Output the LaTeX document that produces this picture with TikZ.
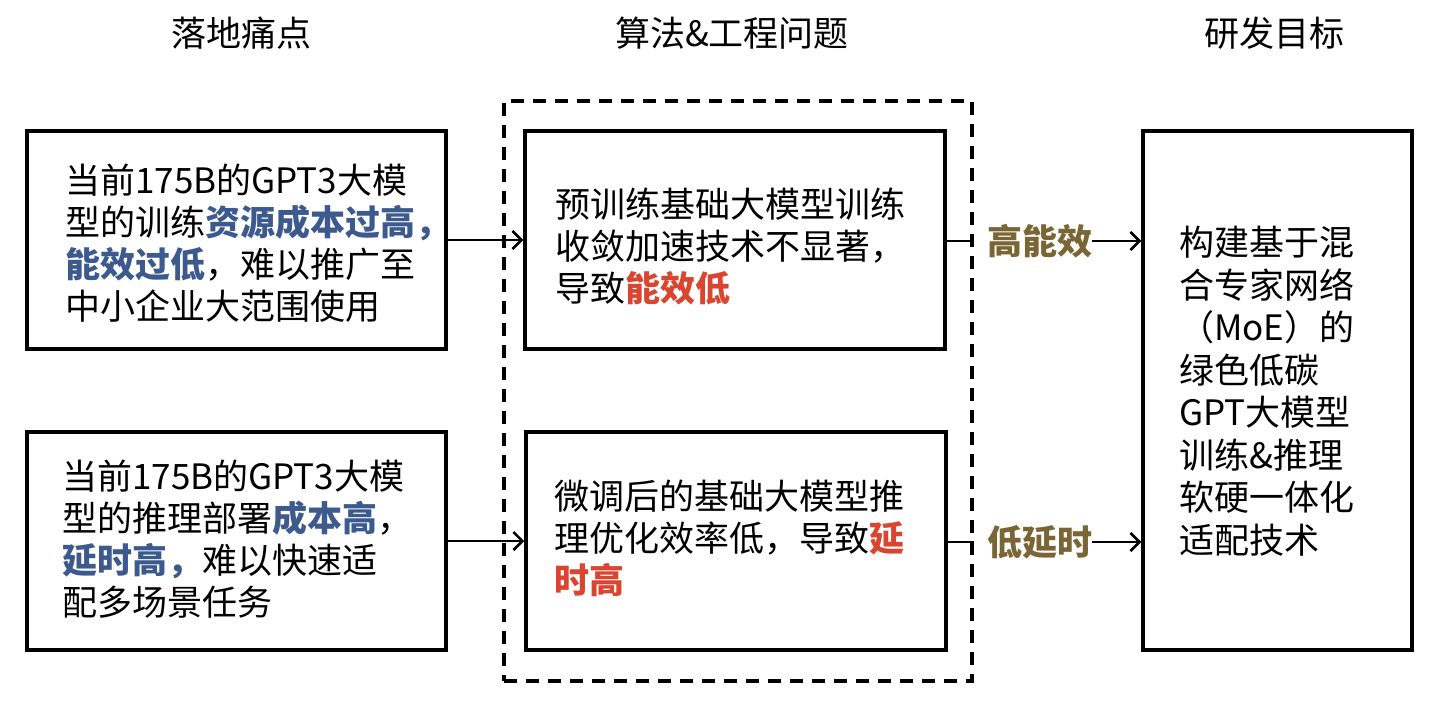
\documentclass[tikz,border=0pt]{standalone}
\usepackage{fontspec}
\setmainfont{Noto Sans CJK SC}
\usetikzlibrary{arrows.meta}
\definecolor{hlblue}{HTML}{3D5A8E}
\definecolor{hlred}{HTML}{D9452F}
\definecolor{hlgold}{HTML}{7A6535}
\newcommand{\hb}[1]{\textbf{\textcolor{hlblue}{#1}}}
\newcommand{\hr}[1]{\textbf{\textcolor{hlred}{#1}}}
\tikzset{
  box/.style={draw=black, line width=3.5pt, rectangle, inner sep=0pt},
  body/.style={anchor=west, align=left, inner sep=0pt, font=\fontsize{35}{42}\selectfont},
  title/.style={inner sep=0pt, font=\fontsize{35}{42}\selectfont},
  lbl/.style={inner sep=0pt, text=hlgold, font=\fontsize{35}{42}\selectfont\bfseries},
  conn/.style={line width=2.5pt},
  arr/.style={line width=2.5pt, -{Straight Barb[length=9pt,width=18pt,line width=2.5pt]}},
  dashbox/.style={draw=black, line width=3.5pt, dash pattern=on 13pt off 9pt, rectangle, inner sep=0pt}
}
\begin{document}
\begin{tikzpicture}[x=1pt,y=-1pt]
\useasboundingbox (0,0) rectangle (1452,704);
% titles
\node[title] (t1) at (241,33) {落地痛点};
\node[title] (t2) at (732,33) {算法\&工程问题};
\node[title] (t3) at (1274,33) {研发目标};
% dashed group
\node[dashbox, minimum width=468pt, minimum height=580pt] (grp) at (738,391) {};
% boxes
\node[box, minimum width=419pt, minimum height=218pt] (p1) at (236.5,240) {};
\node[box, minimum width=419pt, minimum height=218pt] (p2) at (236.5,541) {};
\node[box, minimum width=420pt, minimum height=218pt] (m1) at (735,240) {};
\node[box, minimum width=420pt, minimum height=218pt] (m2) at (736,541) {};
\node[box, minimum width=269pt, minimum height=519pt] (g) at (1277.5,390.5) {};
% texts
\node[body] (p1t) at (65,243) {当前175B的GPT3大模\\型的训练\hb{资源成本过高，}\\\hb{能效过低}，难以推广至\\中小企业大范围使用};
\node[body] (p2t) at (62,539) {当前175B的GPT3大模\\型的推理部署\hb{成本高}，\\\hb{延时高，}难以快速适\\配多场景任务};
\node[body] (m1t) at (555,246) {预训练基础大模型训练\\收敛加速技术不显著，\\导致\hr{能效低}};
\node[body] (m2t) at (554,538) {微调后的基础大模型推\\理优化效率低，导致\hr{延}\\\hr{时高}};
\node[body, font=\fontsize{35}{42.5}\selectfont] (gt) at (1179,391) {构建基于混\\合专家网络\\（MoE）的\\绿色低碳\\GPT大模型\\训练\&推理\\软硬一体化\\适配技术};
% labels
\node[lbl, anchor=west] (l1) at (987,241) {高能效};
\node[lbl, anchor=west] (l2) at (987,542) {低延时};
% connectors
\draw[arr] (p1.east) -- (m1.west);
\draw[arr] (p2.east) -- (m2.west);
\draw[conn] (m1.east |- l1.west) -- (grp.east |- l1.west);
\draw[arr] (l1.east) -- (g.west |- l1.east);
\draw[conn] (m2.east |- l2.west) -- (grp.east |- l2.west);
\draw[arr] (l2.east) -- (g.west |- l2.east);
\end{tikzpicture}
\end{document}
